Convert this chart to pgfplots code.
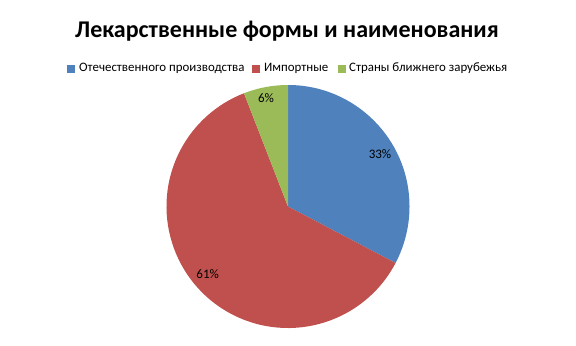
\documentclass[border=0pt]{standalone}
\usepackage{pgfplots}
\pgfplotsset{compat=1.18}
\usepackage{pgfplotstable}
\usepackage{fontspec}
\setmainfont{Carlito}
\definecolor{cBlue}{HTML}{4F81BD}
\definecolor{cRed}{HTML}{C0504D}
\definecolor{cGreen}{HTML}{9BBB59}
\pgfplotstableread{
name value
a 32.7
b 61.4
c 5.9
}\piedata
\begin{document}
\begin{tikzpicture}
\pgfplotstablegetelem{0}{value}\of\piedata \let\va\pgfplotsretval
\pgfplotstablegetelem{1}{value}\of\piedata \let\vb\pgfplotsretval
\pgfplotstablegetelem{2}{value}\of\piedata \let\vc\pgfplotsretval
\pgfmathsetmacro\aA{90-3.6*\va}
\pgfmathsetmacro\aB{\aA-3.6*\vb}
\pgfmathsetmacro\aC{\aB-3.6*\vc}
\begin{axis}[x=1bp,y=1bp,xmin=0,xmax=576,ymin=0,ymax=336,hide axis,clip=false,
  axis line style={draw=none}]
\path (axis cs:0,0) rectangle (axis cs:576,336);
% pie
\fill[cBlue] (axis cs:288,129.5) -- ++(90:121.5bp) arc[start angle=90,end angle=\aA,radius=121.5bp] -- cycle;
\fill[cRed] (axis cs:288,129.5) -- ++(\aA:121.5bp) arc[start angle=\aA,end angle=\aB,radius=121.5bp] -- cycle;
\fill[cGreen] (axis cs:288,129.5) -- ++(\aB:121.5bp) arc[start angle=\aB,end angle=\aC,radius=121.5bp] -- cycle;
% data labels
\node[font=\fontsize{13bp}{15bp}\selectfont,inner sep=0pt] at (axis cs:380,182) {33\%};
\node[font=\fontsize{13bp}{15bp}\selectfont,inner sep=0pt] at (axis cs:266,238.3) {6\%};
\node[font=\fontsize{13bp}{15bp}\selectfont,inner sep=0pt] at (axis cs:207.7,61.7) {61\%};
% title
\node[font=\fontsize{24bp}{28bp}\selectfont\bfseries,anchor=base,inner sep=0pt] at (axis cs:287,298.7) {Лекарственные формы и наименования};
% legend
\fill[cBlue] (axis cs:67,263) rectangle (axis cs:75,271);
\node[font=\fontsize{12.9bp}{15bp}\selectfont,anchor=base west,inner sep=0pt] at (axis cs:79,264.3) {Отечественного производства};
\fill[cRed] (axis cs:252,263) rectangle (axis cs:260,271);
\node[font=\fontsize{12.9bp}{15bp}\selectfont,anchor=base west,inner sep=0pt] at (axis cs:264,264.3) {Импортные};
\fill[cGreen] (axis cs:338,263) rectangle (axis cs:346,271);
\node[font=\fontsize{12.9bp}{15bp}\selectfont,anchor=base west,inner sep=0pt] at (axis cs:349,264.3) {Страны ближнего зарубежья};
\end{axis}
\end{tikzpicture}
\end{document}
